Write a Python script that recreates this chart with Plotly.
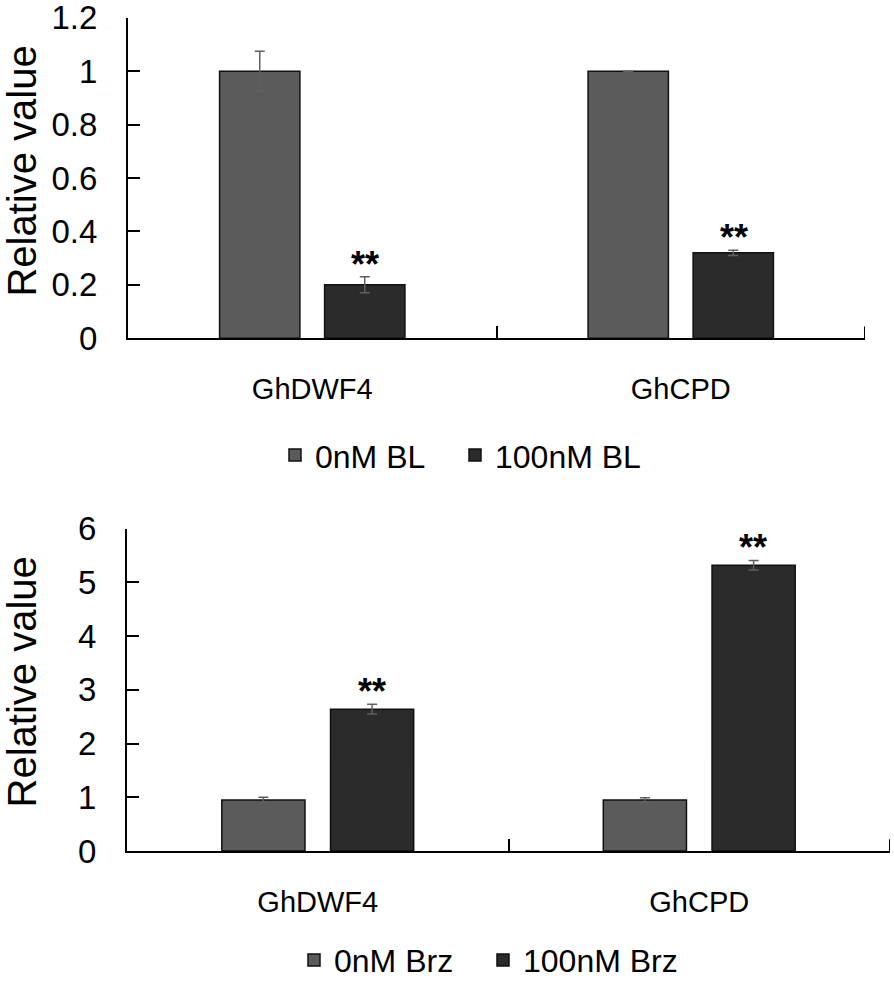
import plotly.graph_objects as go

genes = ["GhDWF4", "GhCPD"]

# Top panel (BL treatment)
bl_0 = [1.0, 1.0]
bl_0_err = [0.075, 0.0]
bl_100 = [0.20, 0.32]
bl_100_err = [0.03, 0.01]
bl_100_sig = ["**", "**"]

# Bottom panel (Brz treatment)
brz_0 = [0.95, 0.95]
brz_0_err = [0.05, 0.04]
brz_100 = [2.64, 5.32]
brz_100_err = [0.09, 0.09]
brz_100_sig = ["**", "**"]

top_ticks = [0, 0.2, 0.4, 0.6, 0.8, 1, 1.2]
bot_ticks = [0, 1, 2, 3, 4, 5, 6]
y_title = "Relative value"

W, H = 894, 988
FONT = "Liberation Sans, Arial, sans-serif"
C0 = "#5b5b5b"
C1 = "#2b2b2b"
ERRC = "#606060"


def px(x):
    return x / W


def py(y):
    return 1 - y / H


fig = go.Figure()


def add_bar(name, y, err, color, xa, ya, legend):
    fig.add_trace(go.Bar(
        x=genes, y=y, name=name, xaxis=xa, yaxis=ya, legend=legend,
        marker=dict(color=color, line=dict(color="#111111", width=1.5)),
        error_y=dict(type="data", array=err, visible=True, color=ERRC, thickness=1.5, width=5),
    ))


add_bar("0nM BL", bl_0, bl_0_err, C0, "x", "y", "legend")
add_bar("100nM BL", bl_100, bl_100_err, C1, "x", "y", "legend2")
add_bar("0nM Brz", brz_0, brz_0_err, C0, "x2", "y2", "legend3")
add_bar("100nM Brz", brz_100, brz_100_err, C1, "x2", "y2", "legend4")

# significance marks
for g, v, e, s in zip(genes, bl_100, bl_100_err, bl_100_sig):
    fig.add_annotation(x=g, y=v + e, xref="x", yref="y", text="<b>" + s + "</b>", showarrow=False,
                       xshift=53, yanchor="bottom", yshift=-10,
                       font=dict(family=FONT, size=36, color="black"))
for g, v, e, s in zip(genes, brz_100, brz_100_err, brz_100_sig):
    fig.add_annotation(x=g, y=v + e, xref="x2", yref="y2", text="<b>" + s + "</b>", showarrow=False,
                       xshift=54, yanchor="bottom", yshift=-10,
                       font=dict(family=FONT, size=36, color="black"))

# y-axis titles
for yc in (173, 688):
    fig.add_annotation(x=0, y=py(yc), xref="paper", yref="paper", text=y_title,
                       textangle=-90, showarrow=False, xanchor="left", yanchor="middle",
                       xshift=-2, font=dict(family=FONT, size=40, color="black"))

# closing tick at the right end of each category axis
for xr, yr in (("x", "y domain"), ("x2", "y2 domain")):
    fig.add_shape(type="line", xref=xr, yref=yr, x0=1.5, x1=1.5, y0=0, y1=0.037,
                  line=dict(color="black", width=2))

axis_common = dict(showline=True, linecolor="black", linewidth=2, showgrid=False,
                   zeroline=False, tickcolor="black", tickwidth=2, automargin=False)

leg_common = dict(orientation="h", xanchor="left", yanchor="middle",
                  font=dict(size=32), bgcolor="rgba(0,0,0,0)")

fig.update_layout(
    width=W, height=H, margin=dict(l=0, r=0, t=0, b=0),
    paper_bgcolor="white", plot_bgcolor="white",
    barmode="group", bargap=0.43, bargroupgap=0.235,
    font=dict(family=FONT, color="black"),
    xaxis=dict(domain=[px(128), px(865)], anchor="y", range=[-0.5, 1.5],
               ticks="inside", tickson="boundaries", ticklen=12,
               tickfont=dict(size=29), ticklabelstandoff=24, **axis_common),
    yaxis=dict(domain=[py(341), py(18)], anchor="x", range=[0, 1.2],
               tickvals=top_ticks, ticks="inside", ticklen=12,
               tickfont=dict(size=33), ticklabelstandoff=22, ticklabeloverflow="allow",
               **axis_common),
    xaxis2=dict(domain=[px(127), px(890)], anchor="y2", range=[-0.5, 1.5],
                ticks="inside", tickson="boundaries", ticklen=12,
                tickfont=dict(size=29), ticklabelstandoff=24, **axis_common),
    yaxis2=dict(domain=[py(858), py(533)], anchor="x2", range=[0, 6],
                tickvals=bot_ticks, ticks="inside", ticklen=12,
                tickfont=dict(size=33), ticklabelstandoff=22, ticklabeloverflow="allow",
                **axis_common),
    legend=dict(x=px(275), y=py(459), **leg_common),
    legend2=dict(x=px(455), y=py(459), **leg_common),
    legend3=dict(x=px(294), y=py(968), **leg_common),
    legend4=dict(x=px(483), y=py(968), **leg_common),
    showlegend=True,
)

post = (
    "document.documentElement.style.margin='0';"
    "document.body.style.margin='0';"
    "document.documentElement.style.overflow='hidden';"
    "document.body.style.overflow='hidden';"
    "var gd=document.getElementById('{plot_id}');"
    "gd.style.overflow='hidden';gd.style.height='988px';"
)

fig.write_html("out.html", config={"displayModeBar": False}, post_script=post)
